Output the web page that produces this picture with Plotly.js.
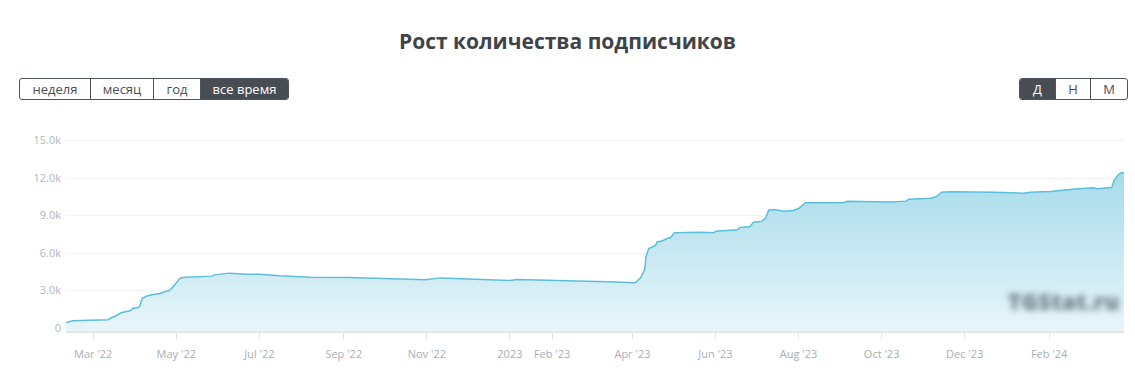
<!DOCTYPE html>
<html>
<head>
<meta charset="utf-8">
<script src="https://cdn.plot.ly/plotly-3.0.1.min.js"></script>
<style>
  html, body { margin:0; padding:0; background:#fff; }
  #wrap { position:relative; width:1135px; height:390px; overflow:hidden; }
  #chart { position:absolute; left:0; top:0; width:1135px; height:390px; }
  .grp { position:absolute; display:flex; height:22px; box-sizing:border-box;
         border:1px solid #4f545c; border-radius:3px; overflow:hidden; background:#fff; }
  .b { box-sizing:border-box; height:20px; line-height:20px; text-align:center;
       font-family:"Open Sans", sans-serif; font-size:13px; color:#4a4f57;
       border-right:1px solid #4f545c; }
  .b:last-child { border-right:none; }
  .b.on { background:#484d55; color:#fff; }
  #wm { position:absolute; left:1008px; top:286px; font-family:"Open Sans", sans-serif;
        font-weight:800; font-size:22px; color:rgba(95,110,120,0.9); filter:blur(3px);
        letter-spacing:0.5px; }
</style>
</head>
<body>
<div id="wrap">
  <div id="chart"></div>
  <div class="grp" style="left:19px;top:78px;">
    <div class="b" style="width:71px">неделя</div>
    <div class="b" style="width:63px">месяц</div>
    <div class="b" style="width:47px">год</div>
    <div class="b on" style="width:87px">все время</div>
  </div>
  <div class="grp" style="left:1019px;top:78px;">
    <div class="b on" style="width:36px">Д</div>
    <div class="b" style="width:35px">Н</div>
    <div class="b" style="width:36px">М</div>
  </div>
  <div id="wm">TGStat.ru</div>
</div>
<script>
const dates = ['2022-02-09','2022-02-14','2022-03-12','2022-03-13','2022-03-18','2022-03-22','2022-03-28','2022-03-30','2022-04-03','2022-04-04',
  '2022-04-06','2022-04-09','2022-04-13','2022-04-19','2022-04-23','2022-04-26','2022-04-29','2022-05-01','2022-05-04','2022-05-08',
  '2022-05-16','2022-05-27','2022-05-29','2022-06-03','2022-06-04','2022-06-09','2022-06-21','2022-07-01','2022-07-16','2022-08-07',
  '2022-09-05','2022-10-12','2022-10-28','2022-10-31','2022-11-11','2022-12-01','2023-01-01','2023-01-06','2023-02-01','2023-02-23',
  '2023-03-14','2023-04-03','2023-04-07','2023-04-10','2023-04-11','2023-04-13','2023-04-16','2023-04-18','2023-04-19','2023-04-23',
  '2023-04-26','2023-04-29','2023-05-02','2023-05-21','2023-05-31','2023-06-01','2023-06-17','2023-06-19','2023-06-26','2023-06-29',
  '2023-07-05','2023-07-08','2023-07-10','2023-07-14','2023-07-21','2023-07-28','2023-08-01','2023-08-06','2023-08-27','2023-09-03',
  '2023-09-06','2023-09-23','2023-10-08','2023-10-19','2023-10-21','2023-11-06','2023-11-10','2023-11-14','2023-11-21','2023-12-22',
  '2024-01-13','2024-01-18','2024-02-02','2024-02-22','2024-03-05','2024-03-07','2024-03-18','2024-03-20','2024-03-23','2024-03-25',
  '2024-03-27'];
const subscribers = [440,580,660,740,1000,1240,1380,1560,1640,1700,
  2380,2540,2660,2760,2920,3000,3340,3620,4010,4060,
  4100,4150,4250,4300,4360,4390,4310,4300,4180,4060,
  4040,3960,3900,3860,4010,3930,3800,3880,3820,3800,
  3700,3620,4020,4680,5740,6360,6500,6600,6860,6980,
  7140,7240,7620,7660,7620,7740,7860,8040,8100,8460,
  8540,8820,9420,9480,9340,9400,9560,10020,10020,10040,
  10140,10120,10080,10150,10300,10380,10500,10860,10900,10860,
  10780,10860,10920,11140,11220,11140,11240,11880,12280,12420,
  12420];

const xTickVals = ['2022-03-01','2022-05-01','2022-07-01','2022-09-01','2022-11-01','2023-01-01','2023-02-01',
  '2023-04-01','2023-06-01','2023-08-01','2023-10-01','2023-12-01','2024-02-01'];
const xTickText = ["Mar '22","May '22","Jul '22","Sep '22","Nov '22","2023","Feb '23",
  "Apr '23","Jun '23","Aug '23","Oct '23","Dec '23","Feb '24"];
const yTickVals = [0,3000,6000,9000,12000,15000];
const yTickText = ['0','3.0k','6.0k','9.0k','12.0k','15.0k'];

const xRange = ['2022-02-09','2024-03-27'];
const yRange = [-240, 15760];

const baseline = {
  x: [dates[0], dates[dates.length-1]],
  y: [yRange[0], yRange[0]],
  mode: 'lines', line: {width:0, color:'rgba(0,0,0,0)'},
  hoverinfo: 'skip', showlegend: false
};
const main = {
  x: dates, y: subscribers,
  mode: 'lines',
  line: {color:'#5bbfdc', width:1.5},
  fill: 'tonexty',
  fillgradient: {type:'vertical', start: yRange[0], stop: 12420,
    colorscale: [[0,'#e8f5fa'],[1,'#a7dbea']]},
  showlegend: false
};

const layout = {
  width:1135, height:390,
  margin:{l:66, r:11, t:131, b:59},
  paper_bgcolor:'#fff', plot_bgcolor:'#fff',
  title:{text:'Рост количества подписчиков', x:0.5, xanchor:'center',
    y: 1 - 42/390, yref:'container', yanchor:'middle',
    font:{family:'"Open Sans", sans-serif', size:21, color:'#3f434a', weight:700}},
  xaxis:{type:'date', range:xRange, tickvals:xTickVals, ticktext:xTickText,
    showgrid:false, zeroline:false, showline:true, linecolor:'#e6e6e6', linewidth:2,
    ticks:'outside', ticklen:6, tickcolor:'#e2e2e2', tickwidth:1,
    ticklabelstandoff:6,
    tickfont:{family:'"Open Sans", sans-serif', size:11, color:'#a9aeb5'}},
  yaxis:{range:yRange, tickvals:yTickVals, ticktext:yTickText,
    showgrid:true, gridcolor:'#f3f3f3', gridwidth:1, zeroline:false, showline:false,
    ticks:'', ticklabelstandoff:4,
    tickfont:{family:'"Open Sans", sans-serif', size:11, color:'#b2b6bc'}},
  hovermode:false
};

Plotly.newPlot('chart', [baseline, main], layout, {displayModeBar:false, staticPlot:true});
</script>
</body>
</html>
